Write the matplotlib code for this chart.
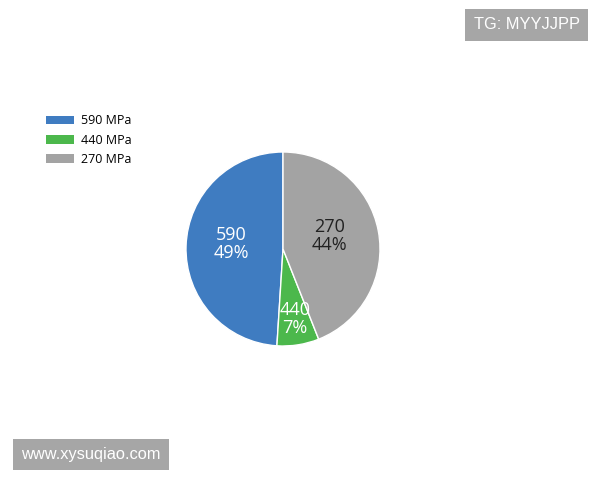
import numpy as np
import matplotlib.pyplot as plt
from matplotlib.patches import Patch

# data
grades = ["590", "440", "270"]
legend_labels = ["590 MPa", "440 MPa", "270 MPa"]
shares = [49, 7, 44]
colors = ["#3f7cc1", "#4cb84c", "#a3a3a3"]
text_colors = ["white", "white", "#222222"]
label_radius = [0.53, 0.77, 0.49]

plt.rcParams["font.family"] = ["Open Sans", "DejaVu Sans"]

fig = plt.figure(figsize=(6, 4.8), dpi=100, facecolor="white")

# pie axes: center (283, 249) px, radius 97 px
cx, cy, r = 283, 249, 97
ax = fig.add_axes([(cx - r) / 600, (480 - cy - r) / 480, 2 * r / 600, 2 * r / 480])
wedges, _ = ax.pie(shares, colors=colors, startangle=90, counterclock=True,
                   radius=1, wedgeprops=dict(edgecolor="white", linewidth=1))
ax.set_xlim(-1, 1)
ax.set_ylim(-1, 1)
ax.set_aspect("equal")
ax.axis("off")

for w, g, s, tc, lr in zip(wedges, grades, shares, text_colors, label_radius):
    ang = np.deg2rad((w.theta1 + w.theta2) / 2)
    ax.text(lr * np.cos(ang), lr * np.sin(ang) + 0.04, f"{g}\n{s}%", ha="center", va="center",
            color=tc, fontsize=13, linespacing=1.0)

# legend
handles = [Patch(facecolor=c, edgecolor="none") for c in colors]
fig.legend(handles, legend_labels, loc="upper left", bbox_to_anchor=(0.058, 0.785),
           frameon=False, fontsize=9, handlelength=2.2, handleheight=0.7,
           labelspacing=0.5, handletextpad=0.6)

# watermarks
wm_font = ["Liberation Sans", "DejaVu Sans"]
fig.text(0.8775, 0.948, "TG: MYYJJPP", ha="center", va="center", color="white", fontsize=11.8,
         family=wm_font,
         bbox=dict(facecolor="#a6a6a6", edgecolor="none", boxstyle="square,pad=0.5"))
fig.text(0.1515, 0.0525, "www.xysuqiao.com", ha="center", va="center", color="white", fontsize=11.8,
         family=wm_font,
         bbox=dict(facecolor="#a6a6a6", edgecolor="none", boxstyle="square,pad=0.5"))

plt.savefig("out.png", dpi=100)
